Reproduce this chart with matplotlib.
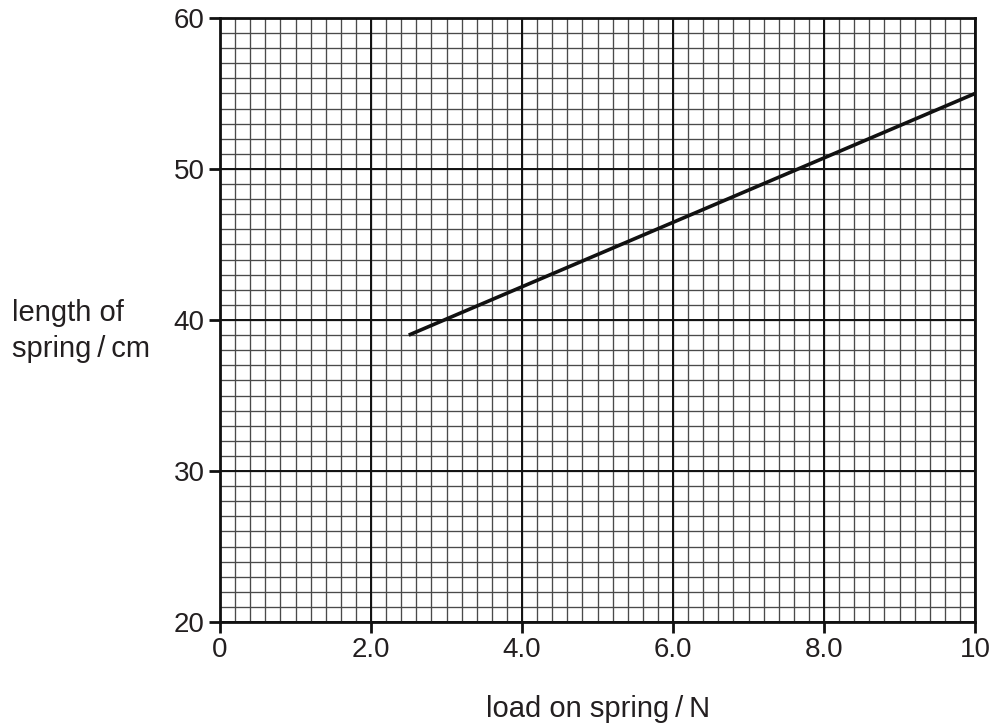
import matplotlib
matplotlib.use("Agg")
import matplotlib.pyplot as plt
import numpy as np

plt.rcParams['font.family'] = ['Liberation Sans', 'DejaVu Sans']

load = [2.5, 10.0]
length = [39.0, 55.0]
xticks = [0, 2, 4, 6, 8, 10]
xtick_labels = ["0", "2.0", "4.0", "6.0", "8.0", "10"]
yticks = [20, 30, 40, 50, 60]
ytick_labels = ["20", "30", "40", "50", "60"]

fig = plt.figure(figsize=(9.96, 7.24), dpi=100)
ax = fig.add_axes([220/996, 102/724, 755/996, 604/724])
ax.set_xlim(0, 10)
ax.set_ylim(20, 60)

# fine grid
for xv in np.arange(0, 10.001, 0.2):
    ax.axvline(xv, color='#4a4a4a', lw=0.95, zorder=1)
for yv in np.arange(20, 60.001, 1):
    ax.axhline(yv, color='#4a4a4a', lw=0.95, zorder=1)
for xv in xticks:
    ax.axvline(xv, color='#111111', lw=1.4, zorder=2)
for yv in yticks:
    ax.axhline(yv, color='#111111', lw=1.4, zorder=2)

ax.plot(load, length, color='#111111', lw=2.6, zorder=3, solid_capstyle='butt')

ax.set_xticks(xticks)
ax.set_xticklabels(xtick_labels)
ax.set_yticks(yticks)
ax.set_yticklabels(ytick_labels)
ax.tick_params(direction='out', length=8, width=2, colors='#111111', labelsize=20, pad=3)
for lab in ax.get_xticklabels() + ax.get_yticklabels():
    lab.set_color('#231f20')
for s in ax.spines.values():
    s.set_linewidth(2)
    s.set_color('#111111')

fig.text(598/996, 1 - 717/724, "load on spring\u2009/\u2009N", ha='center', va='baseline', fontsize=21, color='#231f20')
fig.text(12/996, 1 - 321/724, "length of", ha='left', va='baseline', fontsize=21, color='#231f20')
fig.text(12/996, 1 - 357/724, "spring\u2009/\u2009cm", ha='left', va='baseline', fontsize=21, color='#231f20')

fig.savefig("out.png", dpi=100)
